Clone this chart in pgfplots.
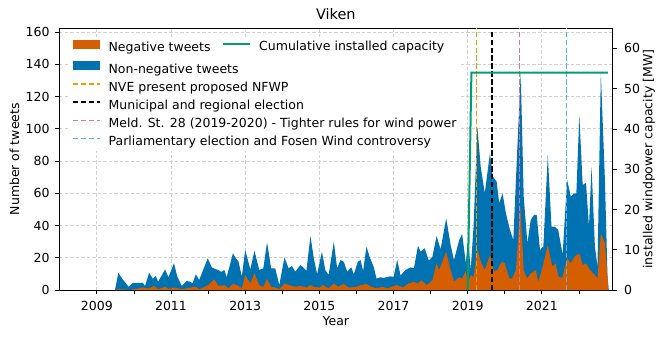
\documentclass[border=0pt]{standalone}
\usepackage{fontspec}
\setmainfont{DejaVu Sans}
\usepackage{pgfplots}
\pgfplotsset{compat=1.18}
\usetikzlibrary{calc}

\definecolor{negc}{RGB}{213,94,0}
\definecolor{posc}{RGB}{0,114,178}
\definecolor{capc}{RGB}{0,158,115}
\definecolor{nvec}{RGB}{230,159,0}
\definecolor{pinkc}{RGB}{204,121,167}
\definecolor{skyc}{RGB}{86,180,233}
\newcommand{\fs}{\fontsize{12.5}{15}\selectfont}

\pgfplotsset{
  fillleg/.style={legend image code/.code={\fill[##1, draw=none] (0pt,-0.5pt) rectangle (27pt,9pt);}},
  lineleg/.style={legend image code/.code={\draw[##1] (0pt,4.2pt) -- (27pt,4.2pt);}},
  vdash/.style={line width=1.4pt, dash pattern=on 5.5pt off 2.4pt},
}

\begin{document}
\begin{tikzpicture}
\begin{axis}[
  name=main, at={(0,0)}, anchor=south west,
  scale only axis, width=553.7pt, height=261.7pt,
  xmin=2007.98, xmax=2022.91, ymin=0, ymax=162.4,
  xtick={2009,2011,...,2021}, minor xtick={2010,2012,...,2022},
  ytick={0,20,...,160},
  xtick pos=lower, ytick pos=left,
  tick align=outside, major tick length=4pt, minor tick length=4pt,
  every tick/.style={black, line width=0.8pt},
  axis line style={line width=0.8pt},
  /pgf/number format/1000 sep={},
  /pgf/number format/assume math mode=true,
  tick label style={font=\fs},
  xticklabel style={yshift=-3.5pt},
  yticklabel style={xshift=-2pt},
  grid=major,
  major grid style={black!18, line width=0.8pt, dash pattern=on 3.5pt off 2pt},
  title={Viken},
  title style={font=\fontsize{14.5}{17}\selectfont, at={(axis description cs:0.5,1.0317)}, anchor=base, yshift=-5pt},
  xlabel={Year},
  xlabel style={font=\fs, at={(axis description cs:0.5,-0.134)}, anchor=base},
  ylabel={Number of tweets},
  ylabel style={font=\fs, at={(axis description cs:-0.0804,0.5)}, anchor=center},
  legend style={at={(axis description cs:0.0163,0.965)}, anchor=north west,
    draw=none, fill=white,
    inner xsep=4pt, inner ysep=2pt, font=\fs,
    /tikz/row sep=6.2pt, /tikz/column sep=8pt,
    nodes={inner sep=0pt, text height=9.2pt, text depth=2.8pt}},
  legend cell align=left,
]
\addlegendimage{fillleg, fill=negc}
\addlegendentry{Negative tweets}
\addlegendimage{fillleg, fill=posc}
\addlegendentry{Non-negative tweets}
\addlegendimage{lineleg, nvec, vdash}
\addlegendentry{NVE present proposed NFWP}
\addlegendimage{lineleg, black, vdash}
\addlegendentry{Municipal and regional election}
\addlegendimage{lineleg, pinkc, vdash}
\addlegendentry{Meld. St. 28 (2019-2020) - Tighter rules for wind power}
\addlegendimage{lineleg, skyc, vdash}
\addlegendentry{Parliamentary election and Fosen Wind controversy}

% all tweets (top of the blue area)
\addplot[fill=posc, draw=none, forget plot] coordinates {
(2009.49,0) (2009.58,10.7) (2009.71,6.2) (2009.80,3.7) (2009.86,2) (2009.97,4.5)
(2010.11,4.5) (2010.24,4.5) (2010.30,2.5) (2010.41,10.7) (2010.51,7) (2010.59,8.7)
(2010.65,5.2) (2010.75,9) (2010.84,12.8) (2010.93,7.9) (2011.08,16.6) (2011.17,8.3)
(2011.29,2.5) (2011.42,5.6) (2011.51,5.2) (2011.58,4.2) (2011.67,9.7) (2011.76,6.2)
(2011.86,12) (2011.99,19.7) (2012.10,14.1) (2012.19,13) (2012.28,12.4) (2012.35,11.2)
(2012.44,12.4) (2012.50,7.9) (2012.67,22.8) (2012.74,20) (2012.82,17.6) (2012.91,8.3)
(2013.00,24.8) (2013.14,12.8) (2013.25,24.4) (2013.38,12.4) (2013.49,13.5) (2013.59,29.6)
(2013.70,13.5) (2013.81,13.5) (2013.92,3.1) (2014.06,20.3) (2014.17,13.5) (2014.26,14.9)
(2014.35,11.4) (2014.49,15.5) (2014.57,14) (2014.65,11.8) (2014.76,33.5) (2014.85,19.7)
(2014.94,9.9) (2015.07,23.8) (2015.16,12.4) (2015.25,9.3) (2015.39,30) (2015.48,13.5)
(2015.57,18.6) (2015.66,17.4) (2015.75,11.4) (2015.86,14) (2015.93,9.9) (2016.04,17.6)
(2016.11,18.6) (2016.18,11.8) (2016.27,26.9) (2016.36,20.3) (2016.47,14) (2016.54,7.2)
(2016.65,7.9) (2016.74,7.5) (2016.81,8) (2016.92,8.5) (2017.00,8) (2017.10,18.6)
(2017.19,9) (2017.32,12.4) (2017.46,14) (2017.55,13.5) (2017.66,27.5) (2017.73,23.8)
(2017.84,25.9) (2017.95,18.2) (2018.05,20.7) (2018.16,33.5) (2018.27,25.3) (2018.42,44.5)
(2018.54,27.9) (2018.63,18.6) (2018.77,31) (2018.85,34.8) (2018.95,16.6) (2019.01,31.5)
(2019.08,12.4) (2019.16,40) (2019.26,101.4) (2019.35,76.6) (2019.46,60) (2019.60,84.9)
(2019.68,70.4) (2019.78,67.3) (2019.85,53.8) (2019.94,60) (2020.03,47.6) (2020.14,37.3)
(2020.23,31) (2020.32,78.7) (2020.43,134.6) (2020.51,58) (2020.61,29) (2020.70,43.5)
(2020.79,46.6) (2020.86,46.6) (2020.95,24.8) (2021.04,27) (2021.16,83.9) (2021.26,39.3)
(2021.35,39.3) (2021.44,37.3) (2021.56,22) (2021.68,68.3) (2021.78,58) (2021.87,60)
(2021.93,60) (2022.01,108.7) (2022.10,65.2) (2022.19,66.5) (2022.27,39.3) (2022.34,76.6)
(2022.43,26.9) (2022.50,14.5) (2022.59,134.6) (2022.70,68.3) (2022.77,8.3) (2022.80,0)
} \closedcycle;

% negative tweets
\addplot[fill=negc, draw=none, forget plot] coordinates {
(2009.49,0) (2009.6,0.5) (2009.75,0.3) (2009.9,0) (2010.0,0.5) (2010.24,1.5) (2010.41,1)
(2010.55,2.5) (2010.65,0.5) (2010.84,2) (2010.95,0.5) (2011.08,1.5) (2011.3,0.5) (2011.5,1.5)
(2011.67,2) (2011.76,0.5) (2011.86,1.5) (2012.0,3) (2012.17,6.6) (2012.28,2.5) (2012.44,3)
(2012.55,1) (2012.67,4) (2012.82,2.5) (2012.91,1) (2013.0,9.3) (2013.14,4) (2013.25,10.4)
(2013.38,3) (2013.49,2) (2013.59,6.8) (2013.70,2) (2013.81,1.5) (2013.92,0.5) (2014.06,4)
(2014.2,3) (2014.35,2) (2014.5,2.5) (2014.65,1.5) (2014.76,3) (2014.85,2) (2015.0,1.5)
(2015.1,3) (2015.25,1) (2015.39,4) (2015.5,2) (2015.66,3.7) (2015.8,1.5) (2016.0,2)
(2016.11,3) (2016.27,3.7) (2016.4,2) (2016.54,1) (2016.7,2) (2016.85,1) (2017.0,2.5)
(2017.1,3) (2017.25,1.5) (2017.4,4) (2017.55,5) (2017.66,4) (2017.75,6) (2017.9,3)
(2018.05,6) (2018.16,16.6) (2018.23,12.4) (2018.42,23.8) (2018.54,12.4) (2018.63,5.2)
(2018.77,7.9) (2018.85,7) (2018.95,12) (2019.01,4) (2019.08,9.3) (2019.16,8) (2019.26,24.8)
(2019.37,16.6) (2019.46,12.4) (2019.60,21.7) (2019.71,11.6) (2019.80,12.4) (2019.92,17.6)
(2020.0,16.6) (2020.12,7.2) (2020.2,7.2) (2020.3,12.4) (2020.42,51.7) (2020.51,12.4)
(2020.60,7.2) (2020.70,10.3) (2020.84,12.4) (2020.90,5) (2021.0,12.4) (2021.16,28)
(2021.28,14.5) (2021.37,16.6) (2021.45,8.3) (2021.55,7.5) (2021.68,19.7) (2021.78,16.6)
(2021.88,20.7) (2022.01,22.8) (2022.10,15.5) (2022.19,16.6) (2022.30,12.4) (2022.43,9.3)
(2022.50,7.2) (2022.59,35.2) (2022.70,29) (2022.77,8.3) (2022.80,0)
} \closedcycle;

% event markers
\addplot[nvec, vdash, forget plot] coordinates {(2019.24,0) (2019.24,162.4)};
\addplot[black, vdash, forget plot] coordinates {(2019.66,0) (2019.66,162.4)};
\addplot[pinkc, vdash, forget plot] coordinates {(2020.40,0) (2020.40,162.4)};
\addplot[skyc, vdash, forget plot] coordinates {(2021.66,0) (2021.66,162.4)};
\end{axis}

\begin{axis}[
  at={(0,0)}, anchor=south west,
  scale only axis, width=553.7pt, height=261.7pt,
  xmin=2007.98, xmax=2022.91, ymin=0, ymax=65,
  axis x line=none, axis y line*=right,
  ytick={0,10,...,60},
  tick align=outside, major tick length=4pt,
  every tick/.style={black, line width=0.8pt},
  axis line style={line width=0.8pt},
  /pgf/number format/assume math mode=true,
  tick label style={font=\fs},
  yticklabel style={xshift=4pt},
  ylabel={installed windpower capacity [MW]},
  ylabel style={font=\fs, at={(axis description cs:1.0656,0.5)}, anchor=center},
  legend style={at={(axis description cs:0.2872,0.957)}, anchor=north west,
    draw=none, fill=none, inner xsep=4pt, inner ysep=2pt, font=\fs,
    /tikz/column sep=8pt,
    nodes={inner sep=0pt, text height=9.2pt, text depth=2.8pt}},
  legend cell align=left,
]
\addplot[capc, line width=2pt, lineleg] coordinates {(2019.0,0) (2019.1,54) (2022.78,54)};
\addlegendentry{Cumulative installed capacity}
\end{axis}

\pgfresetboundingbox
\path[use as bounding box] ($(main.south west)+(-59pt,-48pt)$) rectangle ($(main.north east)+(52.3pt,28.3pt)$);
\end{tikzpicture}
\end{document}
